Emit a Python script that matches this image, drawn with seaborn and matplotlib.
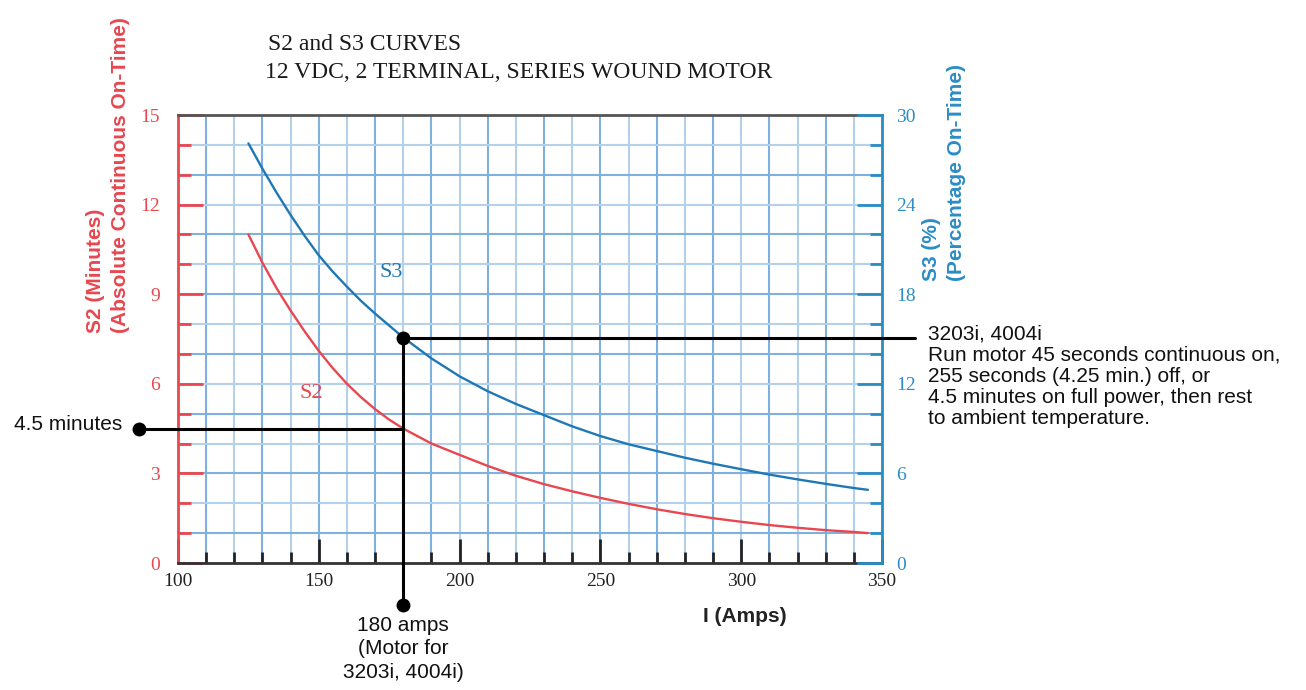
import matplotlib
matplotlib.use("Agg")
import matplotlib.pyplot as plt
import seaborn as sns
import pandas as pd

# values
amps = [125, 130, 135, 140, 145, 150, 155, 160, 165, 170, 175, 180, 190, 200, 210, 220,
        230, 240, 250, 260, 270, 280, 290, 300, 310, 320, 330, 340, 345]
s2_minutes = [11.0, 10.05, 9.2, 8.45, 7.75, 7.1, 6.52, 6.0, 5.55, 5.15, 4.8, 4.5, 4.0,
              3.62, 3.25, 2.92, 2.64, 2.4, 2.18, 1.98, 1.8, 1.64, 1.5, 1.38, 1.27,
              1.18, 1.1, 1.04, 1.0]
s3_percent = [28.1, 26.4, 24.8, 23.3, 21.9, 20.6, 19.5, 18.5, 17.55, 16.7, 15.9, 15.1,
              13.7, 12.5, 11.5, 10.65, 9.9, 9.15, 8.5, 7.95, 7.5, 7.05, 6.65, 6.28,
              5.92, 5.6, 5.3, 5.02, 4.9]

x_ticks = [100, 150, 200, 250, 300, 350]
s2_ticks = [0, 3, 6, 9, 12, 15]
s3_ticks = [0, 6, 12, 18, 24, 30]

motor_amps = 180
motor_s2 = 4.5
motor_s3 = 15.1

df = pd.DataFrame({'amps': amps, 's2': s2_minutes, 's3': s3_percent})

RED = '#e8474f'
BLUE = '#1f78b4'
BLUE_AX = '#2b8cc4'
GRID_DARK = '#7eb0e0'
GRID_LIGHT = '#b3d0ed'
SERIF = 'Liberation Serif'
SANS = 'Liberation Sans'

sns.set_theme(style='white')
plt.rcParams['font.family'] = [SANS, 'DejaVu Sans']

W, H = 1306, 690
fig = plt.figure(figsize=(W / 100, H / 100), dpi=100)
ax = fig.add_axes([178 / W, 1 - 563 / H, (882 - 178) / W, (563 - 115) / H])
ax2 = ax.twinx()

ax.set_xlim(100, 350)
ax.set_ylim(0, 15)
ax2.set_ylim(0, 30)

# graph-paper grid
for i, gx in enumerate(range(110, 350, 10)):
    ax.axvline(gx, color=GRID_DARK if i % 2 == 0 else GRID_LIGHT, lw=1.5, zorder=0)
for i, gy in enumerate(range(1, 15)):
    ax.axhline(gy, color=GRID_DARK if i % 2 == 0 else GRID_LIGHT, lw=1.5, zorder=0)

sns.lineplot(data=df, x='amps', y='s2', ax=ax, color=RED, lw=1.7, zorder=3)
sns.lineplot(data=df, x='amps', y='s3', ax=ax2, color=BLUE, lw=1.7, zorder=3)

# spines
for side in ['left', 'right', 'top', 'bottom']:
    ax.spines[side].set_linewidth(2)
    ax2.spines[side].set_linewidth(2)
ax.spines['left'].set_color(RED)
ax.spines['bottom'].set_color('#333333')
ax.spines['top'].set_color('#555555')
ax.spines['right'].set_visible(False)
ax2.spines['left'].set_visible(False)
ax2.spines['top'].set_visible(False)
ax2.spines['bottom'].set_visible(False)
ax2.spines['right'].set_color(BLUE_AX)

# ticks
ax.set_xticks(x_ticks)
ax.set_xticks(range(100, 351, 10), minor=True)
ax.set_yticks(s2_ticks)
ax.set_yticks(range(0, 16), minor=True)
ax2.set_yticks(s3_ticks)
ax2.set_yticks(range(0, 31, 2), minor=True)

ax.tick_params(axis='x', which='both', direction='in', colors='#222222', width=2,
               bottom=True, top=False, labelsize=14, pad=7)
ax.tick_params(axis='x', which='major', length=17)
ax.tick_params(axis='x', which='minor', length=8)
ax.tick_params(axis='y', which='both', direction='in', colors=RED, width=2,
               left=True, right=False, labelsize=14, pad=13)
ax.tick_params(axis='y', which='major', length=18)
ax.tick_params(axis='y', which='minor', length=9)
ax2.tick_params(axis='y', which='both', direction='in', colors=BLUE_AX, width=2,
                left=False, right=True, labelsize=14, pad=10)
ax2.tick_params(axis='y', which='major', length=18)
ax2.tick_params(axis='y', which='minor', length=9)
for lab in ax.get_xticklabels() + ax.get_yticklabels() + ax2.get_yticklabels():
    lab.set_fontfamily(SERIF)

ax.set_xlabel('')
ax.set_ylabel('')
ax2.set_ylabel('')

# curve labels
ax.text(175.6, 9.74, 'S3', color=BLUE, fontsize=16, family=SERIF, ha='center', va='center')
ax.text(147.2, 5.69, 'S2', color=RED, fontsize=16, family=SERIF, ha='center', va='center')

# annotation lines and dots
ax.plot([86, motor_amps], [motor_s2, motor_s2], color='black', lw=2.2, clip_on=False, zorder=5)
ax.plot([86], [motor_s2], 'o', color='black', ms=9, clip_on=False, zorder=6)
ax2.plot([motor_amps, motor_amps], [-2.82, motor_s3], color='black', lw=2.2, clip_on=False, zorder=5)
ax2.plot([motor_amps, 361.7], [motor_s3, motor_s3], color='black', lw=2.2, clip_on=False, zorder=5)
ax2.plot([motor_amps], [motor_s3], 'o', color='black', ms=9, clip_on=False, zorder=6)
ax2.plot([motor_amps], [-2.82], 'o', color='black', ms=9, clip_on=False, zorder=6)

def fx(px):
    return px / W

def fy(py):
    return 1 - py / H

fig.text(fx(268), fy(45), 'S2 and S3 CURVES', family=SERIF, fontsize=17,
         color='#1a1a1a', va='center')
fig.text(fx(265), fy(72), '12 VDC, 2 TERMINAL, SERIES WOUND MOTOR', family=SERIF,
         fontsize=17, color='#1a1a1a', va='center')

fig.text(fx(108), fy(333), 'S2 (Minutes)\n(Absolute Continuous On-Time)', rotation=90,
         color=RED, fontsize=15, fontweight='bold', ha='center', va='bottom',
         multialignment='left', linespacing=1.4)
fig.text(fx(944), fy(281), 'S3 (%)\n(Percentage On-Time)', rotation=90,
         color=BLUE_AX, fontsize=15, fontweight='bold', ha='center', va='bottom',
         multialignment='left', linespacing=1.35)

fig.text(fx(745), fy(617), 'I (Amps)', fontsize=15, fontweight='bold', color='#222222',
         ha='center', va='center')
fig.text(fx(122), fy(425), '4.5 minutes', fontsize=15, color='#111111',
         ha='right', va='center')
fig.text(fx(928), fy(325), '3203i, 4004i\nRun motor 45 seconds continuous on,\n'
         '255 seconds (4.25 min.) off, or\n4.5 minutes on full power, then rest\n'
         'to ambient temperature.', fontsize=15, color='#111111',
         ha='left', va='top', linespacing=1.13)
fig.text(fx(403), fy(616), '180 amps\n(Motor for\n3203i, 4004i)', fontsize=15,
         color='#111111', ha='center', va='top', linespacing=1.3)

fig.savefig('out.png', dpi=100, facecolor='white')
